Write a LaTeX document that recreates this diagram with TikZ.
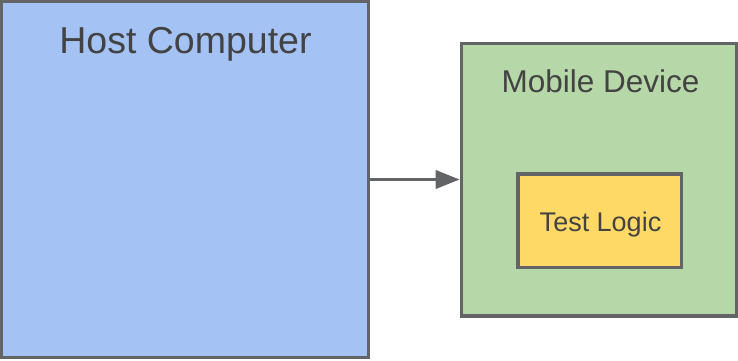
\documentclass[tikz,border=0pt]{standalone}
\usepackage{fontspec}
\setmainfont{Liberation Sans}
\usetikzlibrary{arrows.meta}
\definecolor{hostblue}{HTML}{A4C2F4}
\definecolor{devgreen}{HTML}{B6D7A8}
\definecolor{logicyellow}{HTML}{FFD966}
\definecolor{edgegray}{HTML}{636466}
\definecolor{textgray}{HTML}{434343}
\tikzset{
  panel/.style={draw=edgegray, line width=3.6pt, inner sep=0pt, rectangle},
  label/.style={text=textgray, inner sep=0pt, anchor=base},
  link/.style={draw=edgegray, line width=3.6pt, -{Triangle[length=24pt,width=18pt]}}
}
\begin{document}
\begin{tikzpicture}[x=1pt,y=1pt]
  \useasboundingbox (0,0) rectangle (738,360);
  % host machine
  \node[panel, fill=hostblue, minimum width=367pt, minimum height=356pt] (host) at (185,180.5) {};
  \node[label, font=\fontsize{37.5}{42}\selectfont] (hostlabel) at (185.5,307) {Host Computer};
  % device with the test logic inside
  \node[panel, fill=devgreen, minimum width=275.5pt, minimum height=272.5pt] (device) at (599.25,180.25) {};
  \node[label, font=\fontsize{31.5}{36}\selectfont] (devicelabel) at (600.5,268) {Mobile Device};
  \node[panel, fill=logicyellow, minimum width=163.5pt, minimum height=93.5pt] (logic) at (599.75,139.25) {};
  \node[label, font=\fontsize{27}{32}\selectfont] (logiclabel) at (600.5,129) {Test Logic};
  % connection
  \draw[link] (host.east) -- (host.east -| device.west);
\end{tikzpicture}
\end{document}
